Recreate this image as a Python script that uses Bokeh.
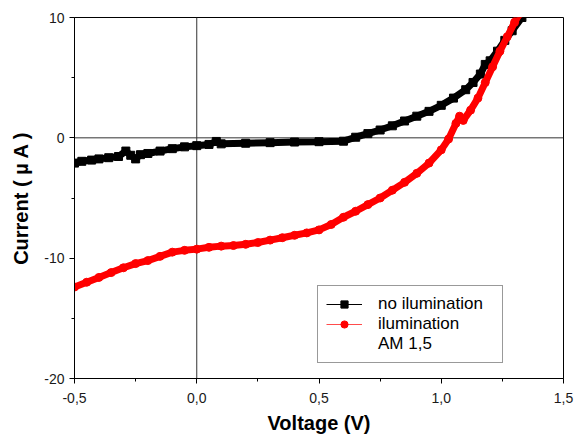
from bokeh.plotting import figure
from bokeh.models import Range1d, FixedTicker, Span, Legend, LegendItem
from bokeh.embed import file_html
from bokeh.resources import INLINE

# Voltage (V) and current (uA) without illumination
dark_v = [-0.50, -0.47, -0.43, -0.40, -0.36, -0.32, -0.29, -0.27, -0.25, -0.23,
          -0.20, -0.15, -0.10, -0.05, 0.00, 0.05, 0.08, 0.10, 0.20, 0.30,
          0.40, 0.50, 0.60, 0.65, 0.70, 0.75, 0.80, 0.85, 0.90, 0.95,
          1.00, 1.05, 1.10, 1.13, 1.16, 1.18, 1.20, 1.23, 1.26, 1.29, 1.33]
dark_i = [-2.1, -1.95, -1.85, -1.75, -1.65, -1.55, -1.1, -1.45, -1.75, -1.4,
          -1.3, -1.1, -0.9, -0.75, -0.65, -0.55, -0.3, -0.5, -0.45, -0.4,
          -0.35, -0.32, -0.28, 0.05, 0.35, 0.65, 1.0, 1.4, 1.8, 2.2,
          2.7, 3.3, 4.0, 4.6, 5.3, 6.1, 6.4, 7.2, 8.1, 8.9, 10.0]

# Voltage (V) and current (uA) under AM 1,5 illumination
light_v = [-0.50, -0.45, -0.40, -0.35, -0.30, -0.25, -0.20, -0.15, -0.10, -0.05,
           0.00, 0.05, 0.10, 0.15, 0.20, 0.25, 0.30, 0.35, 0.40, 0.45,
           0.50, 0.55, 0.60, 0.65, 0.70, 0.75, 0.80, 0.85, 0.90, 0.95,
           1.00, 1.03, 1.06, 1.075, 1.09, 1.12, 1.15, 1.18, 1.21, 1.24,
           1.27, 1.30, 1.32]
light_i = [-12.4, -12.0, -11.6, -11.2, -10.8, -10.45, -10.2, -9.85, -9.5, -9.35,
           -9.25, -9.1, -9.0, -8.95, -8.85, -8.7, -8.5, -8.3, -8.1, -7.9,
           -7.65, -7.2, -6.6, -6.1, -5.55, -5.0, -4.35, -3.7, -2.95, -2.1,
           -1.0, -0.1, 1.2, 1.8, 1.45, 2.3, 3.3, 4.6, 5.9, 7.2,
           8.4, 9.6, 10.3]

x_ticks = [-0.5, 0.0, 0.5, 1.0, 1.5]
x_tick_labels = ["-0,5", "0,0", "0,5", "1,0", "1,5"]
x_minor = [-0.25, 0.25, 0.75, 1.25]
y_ticks = [-20, -10, 0, 10]
y_tick_labels = ["-20", "-10", "0", "10"]
y_minor = [-15, -5, 5]

FONT = "Liberation Sans"
NAN = float("nan")

p = figure(width=574, height=436, output_backend="svg", toolbar_location=None,
           x_range=Range1d(-0.5, 1.5), y_range=Range1d(-20, 10),
           min_border_left=74, min_border_right=11, min_border_top=17,
           min_border_bottom=58, background_fill_color="white",
           border_fill_color="white")

p.xgrid.visible = False
p.ygrid.visible = False
p.outline_line_color = "black"
p.outline_line_alpha = 1
p.outline_line_width = 1

p.xaxis.ticker = FixedTicker(ticks=x_ticks, minor_ticks=x_minor)
p.yaxis.ticker = FixedTicker(ticks=y_ticks, minor_ticks=y_minor)
p.xaxis.major_label_overrides = {t: l for t, l in zip(x_ticks, x_tick_labels)}
p.yaxis.major_label_overrides = {t: l for t, l in zip(y_ticks, y_tick_labels)}

for ax in (p.xaxis, p.yaxis):
    ax.axis_line_color = "black"
    ax.axis_line_width = 1
    ax.major_tick_in = 0
    ax.major_tick_out = 5
    ax.minor_tick_in = 0
    ax.minor_tick_out = 3
    ax.major_tick_line_color = "black"
    ax.minor_tick_line_color = "black"
    ax.major_label_text_font = FONT
    ax.major_label_text_font_size = "14px"
    ax.major_label_text_color = "#1a1a1a"
    ax.axis_label_text_font = FONT
    ax.axis_label_text_font_style = "bold"
    ax.axis_label_text_font_size = "20px"
    ax.axis_label_text_color = "black"

p.xaxis.axis_label = "Voltage (V)"
p.yaxis.axis_label = "Current ( µ A )"
p.xaxis.major_label_standoff = 9
p.xaxis.axis_label_standoff = 6
p.yaxis.major_label_standoff = 5
p.yaxis.axis_label_standoff = 9

p.add_layout(Span(location=0, dimension="height", line_color="#333333",
                  line_width=1, level="underlay"))
p.add_layout(Span(location=0, dimension="width", line_color="#333333",
                  line_width=1, level="underlay"))

# data
p.line(dark_v, dark_i, line_color="black", line_width=7)
p.scatter(dark_v, dark_i, marker="square", size=8, color="black")
p.line(light_v, light_i, line_color="#ff0000", line_width=7)
p.scatter(light_v, light_i, marker="circle", size=8, color="#ff0000")

# legend-only glyphs (no visible data)
lg_dark_line = p.line([NAN], [NAN], line_color="black", line_width=1)
lg_dark_mark = p.scatter([NAN], [NAN], marker="square", size=8, color="black")
lg_light_line = p.line([NAN], [NAN], line_color="#ff0000", line_width=1, line_alpha=0.7)
lg_light_mark = p.scatter([NAN], [NAN], marker="circle", size=9, color="#ff0000")
lg_blank = p.line([NAN], [NAN], line_alpha=0)

legend = Legend(items=[
    LegendItem(label="no ilumination", renderers=[lg_dark_line, lg_dark_mark]),
    LegendItem(label="ilumination", renderers=[lg_light_line, lg_light_mark]),
    LegendItem(label="AM 1,5", renderers=[lg_blank]),
], location=(243, 15))
legend.border_line_color = "#333333"
legend.border_line_width = 1
legend.background_fill_color = "white"
legend.background_fill_alpha = 1
legend.label_text_font = FONT
legend.label_text_font_size = "17px"
legend.label_text_color = "black"
legend.padding = 8
legend.spacing = -2
legend.margin = 0
legend.glyph_width = 36
legend.glyph_height = 18
legend.label_height = 18
legend.label_width = 116
legend.label_standoff = 16
p.add_layout(legend)

open("out.html", "w").write(file_html(p, INLINE))
